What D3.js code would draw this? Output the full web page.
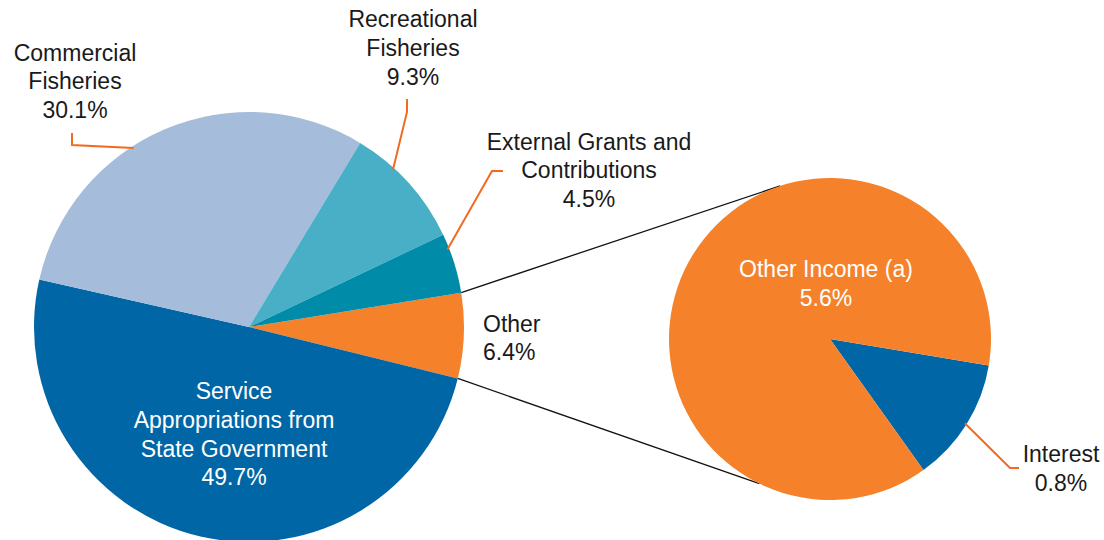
<!DOCTYPE html>
<html>
<head>
<meta charset="utf-8">
<script src="https://cdn.jsdelivr.net/npm/d3@7"></script>
<style>
  html, body { margin: 0; padding: 0; background: #fff; }
  svg { display: block; }
  text { font-family: "Liberation Sans", Arial, sans-serif; font-size: 23px; }
</style>
</head>
<body>
<svg id="chart" width="1104" height="540"></svg>
<script>
// Income sources (% of total)
const mainCategories = ["Other", "Service Appropriations from State Government", "Commercial Fisheries", "Recreational Fisheries", "External Grants and Contributions"];
const mainValues = [6.4, 49.7, 30.1, 9.3, 4.5];
const mainColors = ["#f5822a", "#0066a6", "#a5bddb", "#48afc6", "#008ca8"];

// Breakdown of "Other"
const subCategories = ["Interest", "Other Income (a)"];
const subValues = [0.8, 5.6];
const subColors = ["#0066a6", "#f5822a"];

const deg = Math.PI / 180;
const svg = d3.select("#chart");

const main = { cx: 249, cy: 327, r: 215, start: 80.8 * deg };
const sub = { cx: 830, cy: 339, r: 161, start: 99.5 * deg };

const mainPie = d3.pie().sort(null).value(d => d.value)
  .startAngle(main.start).endAngle(main.start + 2 * Math.PI);
const subPie = d3.pie().sort(null).value(d => d.value)
  .startAngle(sub.start).endAngle(sub.start + 2 * Math.PI);

const mainData = mainPie(mainCategories.map((c, i) => ({ name: c, value: mainValues[i], color: mainColors[i] })));
const subData = subPie(subCategories.map((c, i) => ({ name: c, value: subValues[i], color: subColors[i] })));

const mainArc = d3.arc().innerRadius(0).outerRadius(main.r);
const subArc = d3.arc().innerRadius(0).outerRadius(sub.r);

// point on the rim of a pie at angle a (clockwise from 12 o'clock)
const rim = (p, a, r = p.r) => [p.cx + r * Math.sin(a), p.cy - r * Math.cos(a)];

// Connector lines between the "Other" slice and the breakdown pie
const other = mainData[0];
const connectors = [
  [rim(main, other.startAngle), rim(sub, 342 * deg)],
  [rim(main, other.endAngle), rim(sub, 206 * deg)]
];
svg.append("g").selectAll("line").data(connectors).join("line")
  .attr("x1", d => d[0][0]).attr("y1", d => d[0][1])
  .attr("x2", d => d[1][0]).attr("y2", d => d[1][1])
  .attr("stroke", "#111").attr("stroke-width", 1.3);

svg.append("g").attr("transform", `translate(${main.cx},${main.cy})`)
  .selectAll("path").data(mainData).join("path")
  .attr("d", mainArc).attr("fill", d => d.data.color);

svg.append("g").attr("transform", `translate(${sub.cx},${sub.cy})`)
  .selectAll("path").data(subData).join("path")
  .attr("d", subArc).attr("fill", d => d.data.color);

// Leader lines: start on the slice rim, elbow, end beside the label
const leaders = [
  { pie: main, slice: mainData[2], t: 0.41, pts: [[72, 145], [72, 133]] },
  { pie: main, slice: mainData[3], t: 0.34, pts: [[407, 112], [407, 99]] },
  { pie: main, slice: mainData[4], t: 0.25, pts: [[492, 171], [503, 171]] },
  { pie: sub, slice: subData[0], t: 0.5, pts: [[1010, 468], [1019, 468]] }
];
const line = d3.line();
svg.append("g").selectAll("path").data(leaders).join("path")
  .attr("d", d => {
    const a = d.slice.startAngle + d.t * (d.slice.endAngle - d.slice.startAngle);
    return line([rim(d.pie, a, d.pie.r - 2), ...d.pts]);
  })
  .attr("fill", "none").attr("stroke", "#f26a21").attr("stroke-width", 2);

// Labels
const labels = [
  { lines: ["Commercial", "Fisheries", "30.1%"], x: 75, y: 60.5, anchor: "middle", fill: "#1a1a1a" },
  { lines: ["Recreational", "Fisheries", "9.3%"], x: 413, y: 27, anchor: "middle", fill: "#1a1a1a" },
  { lines: ["External Grants and", "Contributions", "4.5%"], x: 589, y: 149.5, anchor: "middle", fill: "#1a1a1a" },
  { lines: ["Other", "6.4%"], x: 483, y: 331.5, anchor: "start", fill: "#1a1a1a" },
  { lines: ["Service", "Appropriations from", "State Government", "49.7%"], x: 234, y: 399, anchor: "middle", fill: "#fff" },
  { lines: ["Other Income (a)", "5.6%"], x: 826, y: 277, anchor: "middle", fill: "#fff" },
  { lines: ["Interest", "0.8%"], x: 1061, y: 462, anchor: "middle", fill: "#1a1a1a" }
];
const lbl = svg.append("g").selectAll("text").data(labels).join("text")
  .attr("x", d => d.x).attr("y", d => d.y)
  .attr("text-anchor", d => d.anchor).attr("fill", d => d.fill);
lbl.selectAll("tspan").data(d => d.lines.map(l => ({ l, x: d.x }))).join("tspan")
  .attr("x", d => d.x).attr("dy", (d, i) => i === 0 ? 0 : 28.8)
  .text(d => d.l);
</script>
</body>
</html>
